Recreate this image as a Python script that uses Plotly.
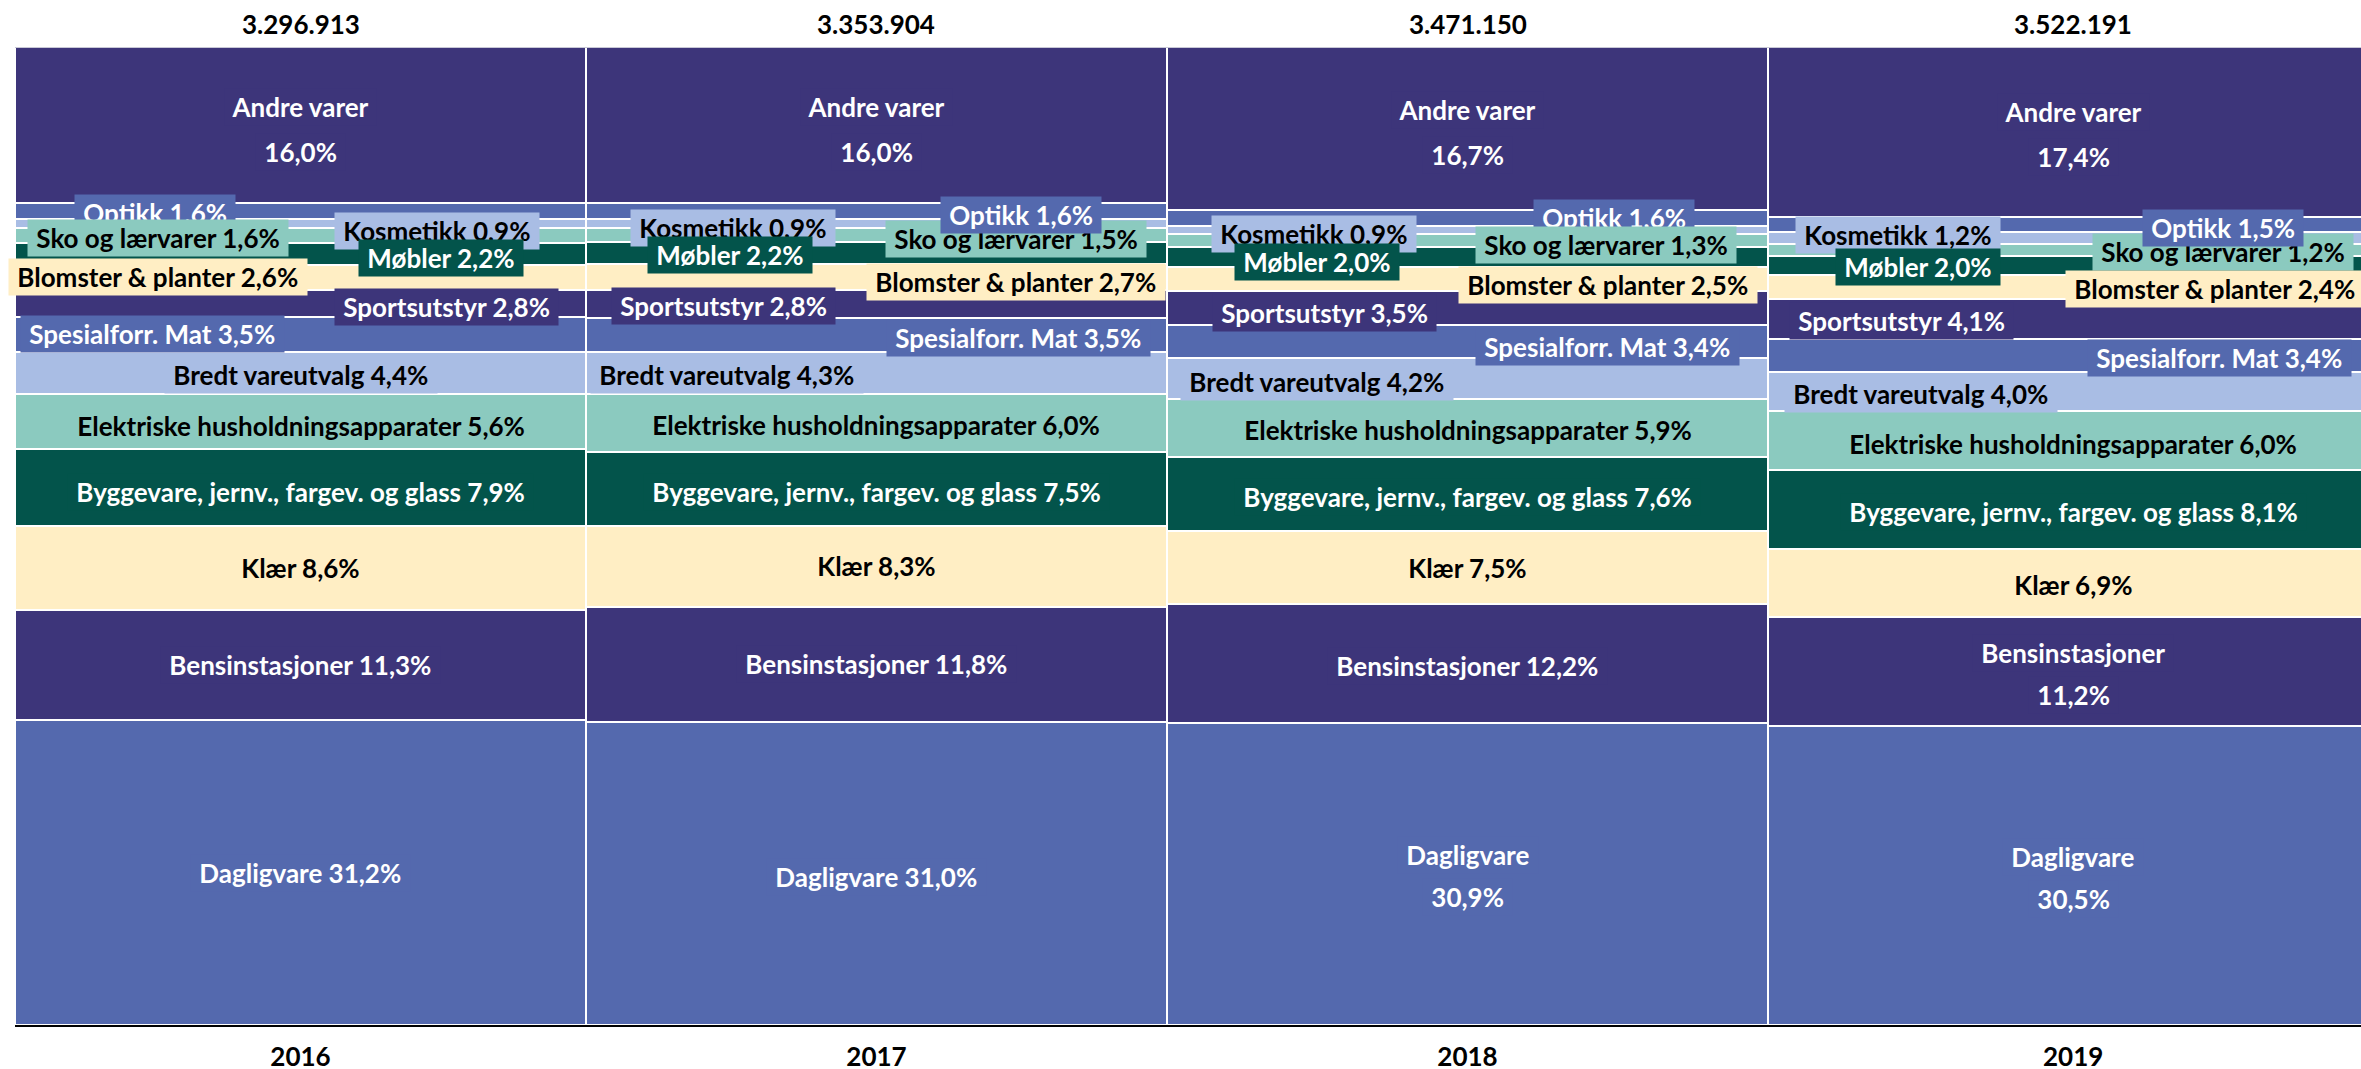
import plotly.graph_objs as go

# Categories, bottom of the stack first
categories = [
    "Dagligvare", "Bensinstasjoner", "Klær", "Byggevare, jernv., fargev. og glass",
    "Elektriske husholdningsapparater", "Bredt vareutvalg", "Spesialforr. Mat",
    "Sportsutstyr", "Blomster & planter", "Møbler", "Sko og lærvarer",
    "Kosmetikk", "Optikk", "Andre varer",
]
years = ["2016", "2017", "2018", "2019"]
totals = [3296913, 3353904, 3471150, 3522191]

# Share (%) per category, same order as categories
share_2016 = [31.2, 11.3, 8.6, 7.9, 5.6, 4.4, 3.5, 2.8, 2.6, 2.2, 1.6, 0.9, 1.6, 16.0]
share_2017 = [31.0, 11.8, 8.3, 7.5, 6.0, 4.3, 3.5, 2.8, 2.7, 2.2, 1.5, 0.9, 1.6, 16.0]
share_2018 = [30.9, 12.2, 7.5, 7.6, 5.9, 4.2, 3.4, 3.5, 2.5, 2.0, 1.3, 0.9, 1.6, 16.7]
share_2019 = [30.5, 11.2, 6.9, 8.1, 6.0, 4.0, 3.4, 4.1, 2.4, 2.0, 1.2, 1.2, 1.5, 17.4]
shares = [share_2016, share_2017, share_2018, share_2019]

# colour cycle (bottom -> top) and matching label text colour
palette = ["#5469AE", "#3D357A", "#FFEEC4", "#03544B", "#8BCABF", "#A9BDE4"]
text_col = ["white", "white", "black", "white", "black", "black"]

# label offsets in pixels (dx, dy) per year, as the labels were dragged in the original
label_shift = {
    "Dagligvare": [(0, 0), (0, -3), (0, -2), (0, -2)],
    "Bensinstasjoner": [(0, 0), (0, 0), (0, -2), (0, -2)],
    "Klær": [(0, 0), (0, 0), (0, 0), (0, -2)],
    "Byggevare, jernv., fargev. og glass": [(0, -4), (0, -3), (0, -3), (0, -2)],
    "Elektriske husholdningsapparater": [(0, -4), (0, -2), (0, -2), (0, -3)],
    "Bredt vareutvalg": [(0, -2), (-149, -2), (-151, -3), (-152, -2)],
    "Spesialforr. Mat": [(-148, 0), (142, -3), (140, -5), (146, -3)],
    "Sportsutstyr": [(146, -3), (-153, -2), (-143, -5), (-172, -2)],
    "Blomster & planter": [(-143, 0), (140, -5), (140, -6), (142, -2)],
    "Møbler": [(140, -4), (-146, -2), (-151, -5), (-155, -2)],
    "Sko og lærvarer": [(-143, -3), (140, -4), (138, -4), (150, -2)],
    "Kosmetikk": [(136, -8), (-143, -5), (-154, -4), (-175, 3)],
    "Optikk": [(-146, -2), (145, -4), (146, 0), (150, -3)],
    "Andre varer": [(0, -4), (0, -4), (0, -4), (0, -2)],
}
two_line = {("Andre varer", y) for y in years} | {
    ("Dagligvare", "2018"), ("Dagligvare", "2019"), ("Bensinstasjoner", "2019")}
raised = {("Optikk", "2017"), ("Optikk", "2019")}

FONT = "Lato"
FS = 26
LINE_GAP = 42

lefts = []
acc = 0
for t in totals:
    lefts.append(acc)
    acc += t
centers = [l + t / 2 for l, t in zip(lefts, totals)]

# normalise each column to 100 %
norm = [[v * 100 / sum(col) for v in col] for col in shares]

traces = []
for i, cat in enumerate(categories):
    traces.append(go.Bar(
        x=lefts, y=[norm[j][i] for j in range(4)], width=totals, offset=0,
        marker=dict(color=palette[i % 6], line=dict(color="white", width=2)),
        name=cat, hoverinfo="skip",
    ))


def label(x, y, txt, dx, dy, i):
    return dict(
        x=x, y=y, xref="x", yref="y", text="<b>\u00a0" + txt + "\u00a0</b>",
        showarrow=False, xshift=dx, yshift=dy, bgcolor=palette[i % 6], borderpad=2,
        font=dict(family=FONT, size=FS, color=text_col[i % 6]),
    )


annotations = []
late = []
for j, yr in enumerate(years):
    cum = [0]
    for v in norm[j]:
        cum.append(cum[-1] + v)
    for i in reversed(range(len(categories))):
        cat = categories[i]
        pct = f"{shares[j][i]:.1f}".replace(".", ",") + "%"
        dx, dy = label_shift[cat][j]
        ymid = (cum[i] + cum[i + 1]) / 2
        if (cat, yr) in two_line:
            gap = LINE_GAP + (3 if cat == "Andre varer" else 0)
            annotations.append(label(centers[j], ymid, cat, dx, dy + gap / 2, i))
            annotations.append(label(centers[j], ymid, pct, dx, dy - gap / 2, i))
            continue
        a = label(centers[j], ymid, cat + " " + pct, dx, dy, i)
        (late if (cat, yr) in raised else annotations).append(a)
    annotations.append(dict(
        x=centers[j], y=100, xref="x", yref="y", yanchor="bottom", yshift=5,
        text="<b>" + f"{totals[j]:,}".replace(",", ".") + "</b>", showarrow=False,
        font=dict(family=FONT, size=FS, color="black"),
    ))
annotations += late

layout = go.Layout(
    width=2361, height=1069,
    margin=dict(l=15, r=0, t=47, b=44, autoexpand=False),
    barmode="stack", bargap=0, showlegend=False,
    plot_bgcolor="white", paper_bgcolor="white",
    xaxis=dict(
        range=[0, 13.545e6], tickvals=centers, ticktext=["<b>" + y + "</b>" for y in years],
        tickfont=dict(family=FONT, size=FS, color="black"), ticks="",
        showline=True, linecolor="black", linewidth=2, showgrid=False, zeroline=False,
        ticklabelstandoff=8, automargin=False,
    ),
    yaxis=dict(range=[0, 100], visible=False),
    annotations=annotations,
    shapes=[dict(type="line", xref="paper", yref="y", x0=0, x1=1, y0=100, y1=100,
                 line=dict(color="#C8C8D6", width=2), layer="above")],
)

fig = go.Figure(data=traces, layout=layout)
# page body has a default 8px margin; drop it so the figure fills the window
fig.write_html("out.html", config={"displayModeBar": False},
               post_script="document.body.style.margin='0';")
